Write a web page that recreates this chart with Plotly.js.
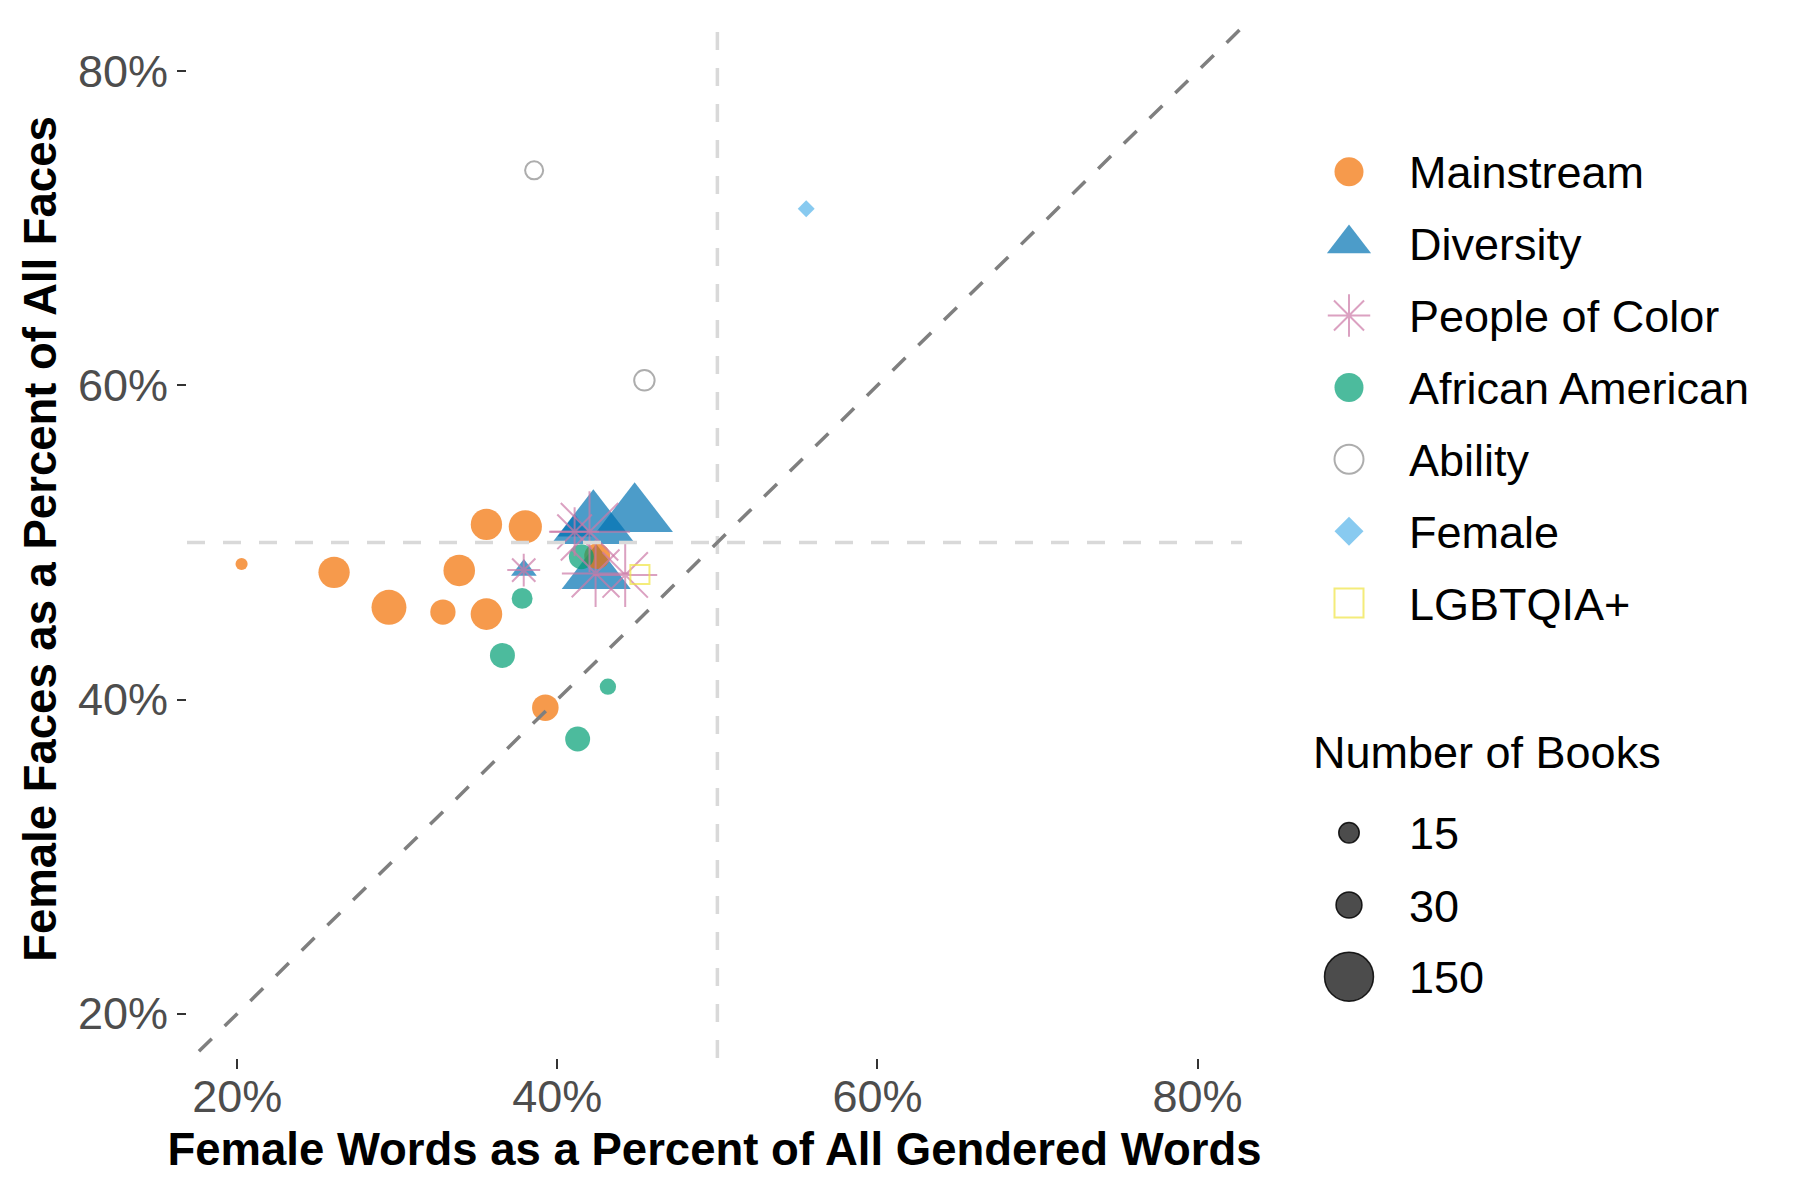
<!DOCTYPE html>
<html><head><meta charset="utf-8">
<script src="https://cdn.plot.ly/plotly-3.0.1.min.js"></script>
<style>html,body{margin:0;padding:0;background:#fff}</style>
</head><body><div id="chart" style="width:1800px;height:1200px"></div>
<script>
// ---------------- DATA ----------------
const categories = ["Mainstream","Diversity","People of Color","African American","Ability","Female","LGBTQIA+"];

// percent female words (x), percent female faces (y), number of books
const mainstreamX = [20.27, 26.05, 29.48, 32.85, 33.87, 35.57, 35.57, 38.00, 39.25, 42.49];
const mainstreamY = [48.63, 48.10, 45.87, 45.57, 48.22, 45.44, 51.15, 51.00, 39.48, 49.13];
const mainstreamBooks = [2, 50, 66, 28, 51, 51, 50, 58, 32, 30];

const diversityX = [44.83, 42.25, 41.08, 42.43, 37.91];
const diversityY = [51.72, 51.06, 50.85, 47.99, 48.24];
const diversityBooks = [160, 200, 20, 125, 8];

const pocX = [41.08, 42.01, 42.39, 44.24, 37.90];
const pocY = [50.68, 50.68, 48.03, 47.93, 48.24];
const pocBooks = [59, 200, 130, 115, 20];

const africanAmericanX = [37.80, 36.57, 43.16, 41.27, 41.50];
const africanAmericanY = [46.44, 42.81, 40.82, 37.49, 49.09];
const africanAmericanBooks = [16, 27, 7, 27, 27];

const abilityX = [38.55, 45.44];
const abilityY = [73.69, 60.32];
const abilityBooks = [10, 15];

const femaleX = [55.55];
const femaleY = [71.24];
const femaleBooks = [8];

const lgbtqX = [45.16];
const lgbtqY = [47.96];
const lgbtqBooks = [12];

const tickVals = [20, 40, 60, 80];
const tickLabels = ["20%", "40%", "60%", "80%"];
const sizeLegendBooks = [15, 30, 150];
const sizeLegendLabels = ["15", "30", "150"];
const parityLine = 50;

// ---------------- STYLE ----------------
const FONT = "Liberation Sans, Arial, Helvetica, sans-serif";
const styles = {
  "Mainstream":      {symbol: "circle",        color: "rgba(242,111,0,0.7)",   factor: 1.0,   open: false},
  "Diversity":       {symbol: "triangle-up",   color: "rgba(0,114,178,0.7)",   factor: 1.32,  open: false},
  "People of Color": {symbol: "asterisk-open", color: "rgba(204,121,167,0.7)", factor: 1.22,  open: true},
  "African American":{symbol: "circle",        color: "rgba(0,158,115,0.7)",   factor: 1.0,   open: false},
  "Ability":         {symbol: "circle-open",   color: "rgba(153,153,153,0.8)", factor: 1.0,   open: true},
  "Female":          {symbol: "diamond",       color: "rgba(86,180,233,0.7)",  factor: 1/1.3, open: false},
  "LGBTQIA+":        {symbol: "square-open",   color: "rgba(240,228,66,0.7)",  factor: 1.0,   open: true}
};
// ggplot-like area scale: diameter linear in sqrt(count)
function diam(n) { return 3.4 * Math.sqrt(n) + 7.3; }

const series = {
  "Mainstream": [mainstreamX, mainstreamY, mainstreamBooks],
  "Diversity": [diversityX, diversityY, diversityBooks],
  "People of Color": [pocX, pocY, pocBooks],
  "African American": [africanAmericanX, africanAmericanY, africanAmericanBooks],
  "Ability": [abilityX, abilityY, abilityBooks],
  "Female": [femaleX, femaleY, femaleBooks],
  "LGBTQIA+": [lgbtqX, lgbtqY, lgbtqBooks]
};
const drawOrder = ["Diversity","Mainstream","African American","People of Color","Ability","Female","LGBTQIA+"];

const traces = [];
drawOrder.forEach(cat => {
  const st = styles[cat];
  const [xs, ys, ns] = series[cat];
  traces.push({
    type: "scatter", mode: "markers", name: cat, x: xs, y: ys,
    xaxis: "x", yaxis: "y", showlegend: false, hoverinfo: "x+y+name",
    marker: {
      symbol: st.symbol, color: st.color, opacity: 1,
      size: ns.map(n => diam(n) * st.factor),
      line: st.open ? {width: 2, color: st.color} : {width: 0}
    }
  });
});

// ---------------- custom legend (pixel-space axes on the right) ----------------
const legX = 1349, legTextX = 1407, legTop = 171.7, legStep = 71.9;
const annotations = [];
categories.forEach((cat, i) => {
  const st = styles[cat];
  const y = legTop + i * legStep;
  traces.push({
    type: "scatter", mode: "markers", x: [legX], y: [y], xaxis: "x2", yaxis: "y2",
    showlegend: false, hoverinfo: "skip",
    marker: {symbol: st.symbol, color: st.color, opacity: 1, size: 29 * st.factor,
      line: st.open ? {width: 2, color: st.color} : {width: 0}}
  });
  annotations.push({xref: "x2", yref: "y2", x: legTextX, y: y + 1, text: cat, showarrow: false,
    xanchor: "left", yanchor: "middle", font: {family: FONT, size: 45, color: "#000"}});
});
annotations.push({xref: "x2", yref: "y2", x: 1311, y: 752, text: "Number of Books", showarrow: false,
  xanchor: "left", yanchor: "middle", font: {family: FONT, size: 45, color: "#000"}});
const sizeRowsY = [832.7, 905, 976.7];
traces.push({
  type: "scatter", mode: "markers", x: sizeLegendBooks.map(() => legX), y: sizeRowsY,
  xaxis: "x2", yaxis: "y2", showlegend: false, hoverinfo: "skip",
  marker: {symbol: "circle", color: "rgba(0,0,0,0.7)", opacity: 1, size: sizeLegendBooks.map(diam),
    line: {width: 1.5, color: "rgba(0,0,0,0.85)"}}
});
sizeLegendLabels.forEach((lab, i) => {
  annotations.push({xref: "x2", yref: "y2", x: legTextX, y: sizeRowsY[i] + 1, text: lab, showarrow: false,
    xanchor: "left", yanchor: "middle", font: {family: FONT, size: 45, color: "#000"}});
});

// ---------------- reference lines ----------------
const xr = [16.86, 82.78], yr = [17.18, 83.26];
const shapes = [
  {type: "line", xref: "x", yref: "y", x0: parityLine, x1: parityLine, y0: yr[0], y1: yr[1], layer: "above",
   line: {color: "#D9D9D9", width: 3.5, dash: "18px,18px"}},
  {type: "line", xref: "x", yref: "y", x0: xr[0], x1: xr[1], y0: parityLine, y1: parityLine, layer: "above",
   line: {color: "#D9D9D9", width: 3.5, dash: "18px,18px"}},
  {type: "line", xref: "x", yref: "y", x0: 16, y0: 16, x1: 84, y1: 84, layer: "above",
   line: {color: "#7F7F7F", width: 3.5, dash: "18px,18px"}}
];

const tickfont = {family: FONT, size: 45, color: "#4D4D4D"};
const layout = {
  width: 1800, height: 1200, margin: {l: 0, r: 0, t: 0, b: 0},
  paper_bgcolor: "#fff", plot_bgcolor: "#fff", showlegend: false,
  xaxis: {domain: [187/1800, 1242/1800], range: xr, tickvals: tickVals, ticktext: tickLabels,
    ticks: "outside", ticklen: 10, tickwidth: 2, tickcolor: "#333", tickfont: tickfont, ticklabelstandoff: -11,
    showgrid: false, zeroline: false, showline: false, automargin: false, anchor: "y",
    title: {text: "Female Words as a Percent of All Gendered Words", standoff: 12,
      font: {family: FONT, size: 45.5, color: "#000", weight: "bold"}}},
  yaxis: {domain: [142/1200, 1180/1200], range: yr, tickvals: tickVals, ticktext: tickLabels,
    ticks: "outside", ticklen: 9, tickwidth: 2, tickcolor: "#333", tickfont: tickfont,
    showgrid: false, zeroline: false, showline: false, automargin: false, anchor: "x",
    title: {text: "Female Faces as a Percent of All Faces", standoff: 6,
      font: {family: FONT, size: 45.5, color: "#000", weight: "bold"}}},
  xaxis2: {domain: [0.7, 1], range: [1260, 1800], visible: false, anchor: "y2", fixedrange: true},
  yaxis2: {domain: [0, 1], range: [1200, 0], visible: false, anchor: "x2", fixedrange: true},
  shapes: shapes, annotations: annotations
};
Plotly.newPlot("chart", traces, layout, {staticPlot: true, displayModeBar: false});
</script></body></html>
